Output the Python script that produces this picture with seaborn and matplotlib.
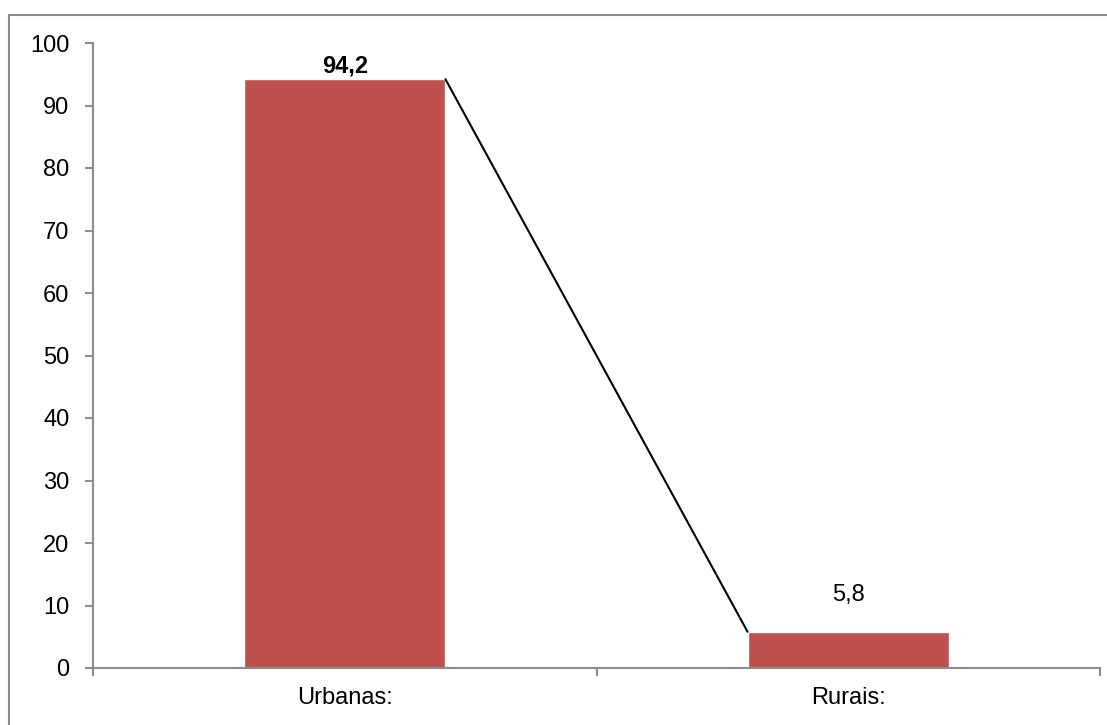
import matplotlib
matplotlib.use("Agg")
import matplotlib.pyplot as plt
import matplotlib.patches as mpatches
from matplotlib import font_manager
import seaborn as sns
import pandas as pd

categories = ["Urbanas:", "Rurais:"]
values = [94.2, 5.8]
value_labels = ["94,2", "5,8"]
yticks = [0, 10, 20, 30, 40, 50, 60, 70, 80, 90, 100]

sns.set_theme(style="white")
names = {f.name for f in font_manager.fontManager.ttflist}
fam = "Liberation Sans Narrow" if "Liberation Sans Narrow" in names else "Liberation Sans"
plt.rcParams["font.family"] = [fam, "DejaVu Sans"]

W, H = 1107, 725
fig = plt.figure(figsize=(W / 100, H / 100), dpi=100)
ax = fig.add_axes([93 / W, 1 - 668 / H, (1100 - 93) / W, (668 - 43) / H])

df = pd.DataFrame({"cat": categories, "val": values})
sns.barplot(data=df, x="cat", y="val", color="#C0504D", saturation=1, width=0.4, ax=ax)

ax.set_xlim(-0.5, 1.5)
ax.set_ylim(0, 100)
ax.set_yticks(yticks)
ax.set_xlabel("")
ax.set_ylabel("")

for s in ["top", "right"]:
    ax.spines[s].set_visible(False)
for s in ["left", "bottom"]:
    ax.spines[s].set_color("#8c8c8c")
    ax.spines[s].set_linewidth(1.5)

ax.tick_params(axis="y", which="major", direction="out", length=6, width=1.5,
               color="#8c8c8c", labelsize=17, labelcolor="black", pad=11, left=True)
ax.tick_params(axis="x", which="major", length=0, labelsize=17, labelcolor="black", pad=14)
ax.set_xticks([-0.5, 0.5, 1.5], minor=True)
ax.tick_params(axis="x", which="minor", direction="out", length=6, width=1.5,
               color="#8c8c8c", bottom=True)

# connecting line from top-right of first bar to top-left of second bar
p = ax.patches
x1 = p[0].get_x() + p[0].get_width()
x2 = p[1].get_x()
ax.plot([x1, x2], [values[0], values[1]], color="black", lw=1.5, zorder=3)

# value labels
ax.text(p[0].get_x() + p[0].get_width() / 2, values[0] + 2.1, value_labels[0],
        ha="center", va="center", fontsize=17, fontweight="bold", color="black")
ax.text(p[1].get_x() + p[1].get_width() / 2, values[1] + 5.8, value_labels[1],
        ha="center", va="center", fontsize=17, color="black")

# chart border (partially cropped, as in reference)
rect = mpatches.Rectangle((9 / W, -0.1), 1.2, (H - 15) / H + 0.1, transform=fig.transFigure,
                          fill=False, edgecolor="#8c8c8c", linewidth=1.5)
fig.patches.append(rect)

fig.savefig("out.png", dpi=100)
